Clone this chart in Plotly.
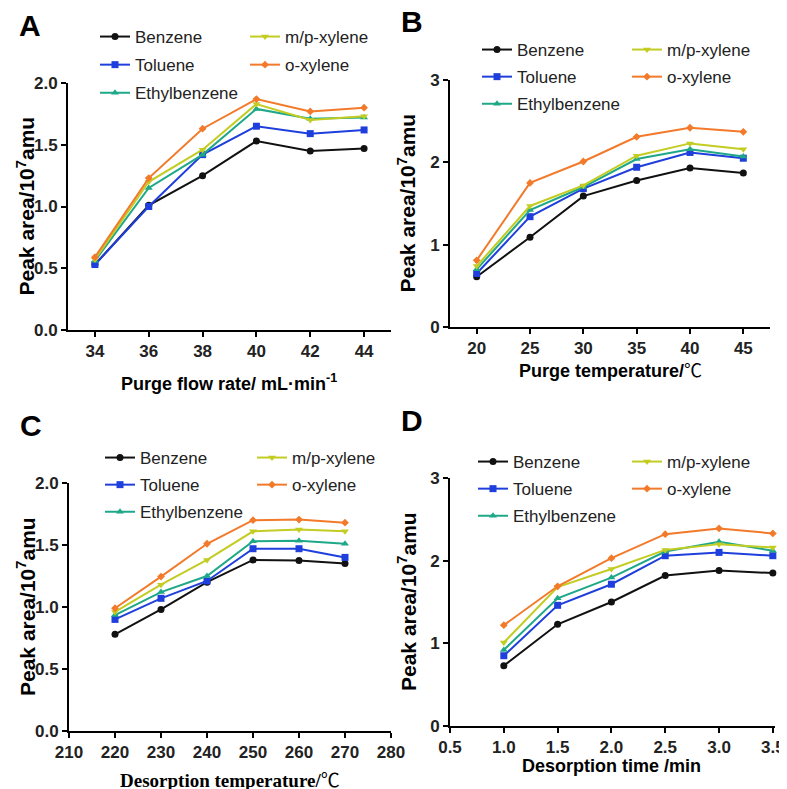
import plotly.graph_objects as go

# the page body keeps its default 8px margin at the top-left, so the figure is
# drawn 8px smaller and every position below is given in window pixels
WIN_W, WIN_H = 787, 789
PAGE_MARGIN = 8
W, H = WIN_W - PAGE_MARGIN, WIN_H - PAGE_MARGIN

# ---------------- data ----------------
series_names = ["Benzene", "Toluene", "Ethylbenzene", "m/p-xylene", "o-xylene"]

flow_rate = [34, 36, 38, 40, 42, 44]
A_benzene = [0.53, 1.01, 1.25, 1.53, 1.45, 1.47]
A_toluene = [0.53, 1.00, 1.42, 1.65, 1.59, 1.62]
A_ethyl = [0.56, 1.15, 1.42, 1.79, 1.71, 1.72]
A_mp = [0.57, 1.20, 1.46, 1.83, 1.70, 1.73]
A_o = [0.59, 1.23, 1.63, 1.87, 1.77, 1.80]

purge_temp = [20, 25, 30, 35, 40, 45]
B_benzene = [0.61, 1.09, 1.59, 1.78, 1.93, 1.87]
B_toluene = [0.65, 1.34, 1.68, 1.94, 2.12, 2.05]
B_ethyl = [0.70, 1.42, 1.70, 2.04, 2.16, 2.07]
B_mp = [0.74, 1.47, 1.72, 2.08, 2.23, 2.16]
B_o = [0.81, 1.75, 2.01, 2.31, 2.42, 2.37]

des_temp = [220, 230, 240, 250, 260, 270]
C_benzene = [0.78, 0.98, 1.20, 1.38, 1.375, 1.35]
C_toluene = [0.90, 1.07, 1.21, 1.47, 1.47, 1.40]
C_ethyl = [0.935, 1.12, 1.25, 1.53, 1.535, 1.51]
C_mp = [0.96, 1.18, 1.38, 1.61, 1.625, 1.61]
C_o = [0.99, 1.245, 1.51, 1.70, 1.705, 1.68]

des_time = [1.0, 1.5, 2.0, 2.5, 3.0, 3.5]
D_benzene = [0.73, 1.23, 1.50, 1.82, 1.88, 1.85]
D_toluene = [0.85, 1.46, 1.715, 2.06, 2.10, 2.06]
D_ethyl = [0.92, 1.545, 1.795, 2.11, 2.23, 2.12]
D_mp = [1.01, 1.68, 1.90, 2.13, 2.20, 2.16]
D_o = [1.22, 1.69, 2.03, 2.32, 2.39, 2.33]

panel_letters = ["A", "B", "C", "D"]
CEL = "<span style=\"font-family:'Noto Sans CJK SC';font-weight:normal\">℃</span>"
x_titles = ["Purge flow rate/ mL·min<sup>-1</sup>", "Purge temperature/" + CEL,
            "Desorption temperature/" + CEL, "Desorption time /min"]
y_title = "Peak area/10<sup>7</sup>amu"

# ---------------- styles ----------------
colors = ["#111111", "#1f3fdc", "#1ea888", "#c3cc22", "#f27a2a"]
symbols = ["circle", "square", "triangle-up", "triangle-down", "diamond"]
msizes = [7, 7, 7, 7, 6]
SANS = "Liberation Sans, Arial, sans-serif"
SERIF = "Liberation Serif, Times New Roman, serif"

def px_x(p):
    return (p - PAGE_MARGIN) / W

def px_y(p):
    return 1 - (p - PAGE_MARGIN) / H

# plot-area pixel boxes in window pixels: (left, right, top, bottom)
boxes = [(68, 391, 83, 330), (450, 770, 80, 327), (69, 391, 483, 731), (450, 775, 478, 726)]

panels = [
    (flow_rate, [A_benzene, A_toluene, A_ethyl, A_mp, A_o], [33, 45], [34, 36, 38, 40, 42, 44], [0, 2.0], [0, 0.5, 1.0, 1.5, 2.0], ".1f", None),
    (purge_temp, [B_benzene, B_toluene, B_ethyl, B_mp, B_o], [17.5, 47.5], [20, 25, 30, 35, 40, 45], [0, 3], [0, 1, 2, 3], "d", None),
    (des_temp, [C_benzene, C_toluene, C_ethyl, C_mp, C_o], [210, 280], [210, 220, 230, 240, 250, 260, 270, 280], [0, 2.0], [0, 0.5, 1.0, 1.5, 2.0], ".1f", None),
    (des_time, [D_benzene, D_toluene, D_ethyl, D_mp, D_o], [0.5, 3.52], [0.5, 1.0, 1.5, 2.0, 2.5, 3.0, 3.5], [0, 3], [0, 1, 2, 3], "d", ".1f"),
]

# legend positions: (col1 left px, col2 left px, top px)
legend_pos = [(95, 245, 19), (477, 627, 32), (100, 252, 440), (473, 627, 444)]

fig = go.Figure()
layout = {}
annotations = []

for i, (xv, ys, xr, xt, yr, yt, yfmt, xfmt) in enumerate(panels):
    n = i + 1
    xa = "x" if n == 1 else f"x{n}"
    ya = "y" if n == 1 else f"y{n}"
    xkey = "xaxis" if n == 1 else f"xaxis{n}"
    ykey = "yaxis" if n == 1 else f"yaxis{n}"
    l, r, t, b = boxes[i]
    common = dict(showline=True, linecolor="black", linewidth=2, ticks="outside",
                  ticklen=5, tickwidth=2, tickcolor="black", showgrid=False, zeroline=False,
                  automargin=False, ticklabeloverflow="allow",
                  tickfont=dict(family=SANS, size=17, color="#222", weight="bold"))
    layout[xkey] = dict(domain=[px_x(l), px_x(r)], anchor=ya, range=xr, tickvals=xt,
                        **common)
    if xfmt:
        layout[xkey]["tickformat"] = xfmt
    layout[ykey] = dict(domain=[px_y(b), px_y(t)], anchor=xa, range=yr, tickvals=yt,
                        tickformat=yfmt, **common)
    lg1 = "legend" if i == 0 else f"legend{2 * i + 1}"
    lg2 = f"legend{2 * i + 2}"
    for k, (name, yvals) in enumerate(zip(series_names, ys)):
        fig.add_trace(go.Scatter(
            x=xv, y=yvals, name=name, mode="lines+markers",
            xaxis=xa, yaxis=ya, cliponaxis=False,
            line=dict(color=colors[k], width=2),
            marker=dict(symbol=symbols[k], size=msizes[k], color=colors[k]),
            legend=lg1 if k < 3 else lg2, legendgroup=f"{i}-{k}",
        ))
    c1, c2, top = legend_pos[i]
    gap = 3 if i == 0 else 2
    for lg, lx in ((lg1, c1), (lg2, c2)):
        layout[lg] = dict(x=px_x(lx), y=px_y(top), xanchor="left", yanchor="top",
                          bgcolor="rgba(0,0,0,0)", borderwidth=0,
                          font=dict(family=SANS, size=17, color="#222"),
                          tracegroupgap=gap, traceorder="grouped", itemwidth=30)
    # panel letter
    annotations.append(dict(text=panel_letters[i], xref="paper", yref="paper",
                            x=px_x(l - 38), y=px_y(t - 58), xanchor="center", yanchor="middle",
                            showarrow=False,
                            font=dict(family=SANS, size=30, color="black", weight="bold")))
    # y title
    annotations.append(dict(text=y_title, xref="paper", yref="paper",
                            x=px_x(l - 43), y=px_y((t + b) / 2), xanchor="center", yanchor="middle",
                            textangle=-90, showarrow=False,
                            font=dict(family=SANS, size=21, color="black", weight="bold")))

# x titles
xt_pos = [(229, 383, SANS, 18), (610, 369, SANS, 18), (230, 778, SERIF, 19), (611, 766, SANS, 18)]
for (cx, cy, fam, fs), txt in zip(xt_pos, x_titles):
    annotations.append(dict(text=txt, xref="paper", yref="paper", x=px_x(cx), y=px_y(cy),
                            xanchor="center", yanchor="middle", showarrow=False,
                            font=dict(family=fam, size=fs, color="black", weight="bold")))

fig.update_layout(
    width=W, height=H, margin=dict(l=0, r=0, t=0, b=0, autoexpand=False),
    paper_bgcolor="white", plot_bgcolor="white",
    annotations=annotations, **layout,
)

fig.write_html("out.html")
